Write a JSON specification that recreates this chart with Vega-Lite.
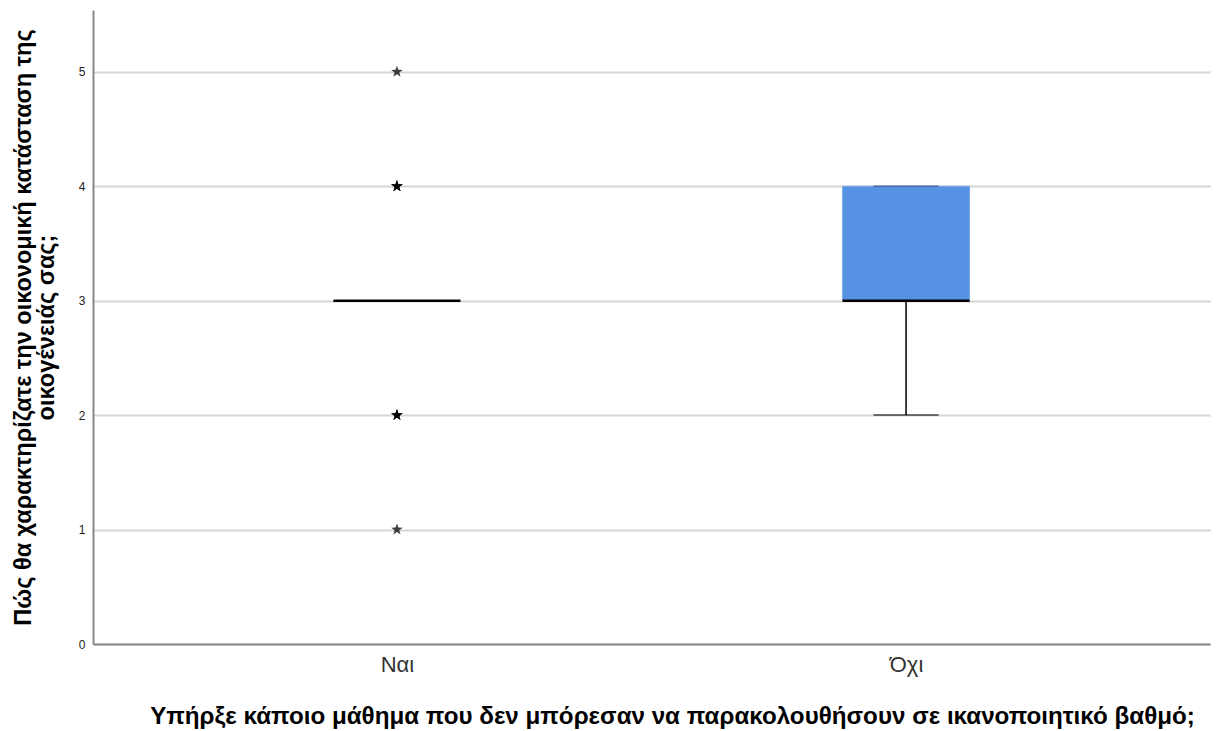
{
  "$schema": "https://vega.github.io/schema/vega-lite/v6.json",
  "width": 1117,
  "height": 634,
  "autosize": {"type": "none"},
  "padding": {"left": 93, "top": 10, "right": 14, "bottom": 87},
  "background": "white",
  "datasets": {
    "box": [
      {"group": "Ναι", "lower": 3, "q1": 3, "median": 3, "q3": 3, "upper": 3},
      {"group": "Όχι", "lower": 2, "q1": 3, "median": 3, "q3": 4, "upper": 4}
    ],
    "out": [
      {"group": "Ναι", "value": 5},
      {"group": "Ναι", "value": 4},
      {"group": "Ναι", "value": 4},
      {"group": "Ναι", "value": 4},
      {"group": "Ναι", "value": 2},
      {"group": "Ναι", "value": 2},
      {"group": "Ναι", "value": 2},
      {"group": "Ναι", "value": 1}
    ]
  },
  "config": {
    "view": {"stroke": null},
    "axis": {"labelFont": "Liberation Sans", "titleFont": "Liberation Sans"}
  },
  "encoding": {
    "x": {
      "field": "group",
      "type": "nominal",
      "sort": ["Ναι", "Όχι"],
      "scale": {"type": "point", "domain": ["Ναι", "Όχι"], "padding": 0.597},
      "axis": {
        "orient": "bottom",
        "title": "Υπήρξε κάποιο μάθημα που δεν μπόρεσαν να παρακολουθήσουν σε ικανοποιητικό βαθμό;",
        "titleFontSize": 24.2,
        "titleFontWeight": "bold",
        "titleColor": "#000",
        "titlePadding": 29,
        "titleX": 579,
        "labelAngle": 0,
        "labelFontSize": 22,
        "labelColor": "#333",
        "labelPadding": 10,
        "ticks": false,
        "domainColor": "#888",
        "domainWidth": 2,
        "grid": false
      }
    }
  },
  "layer": [
    {
      "data": {"name": "box"},
      "mark": {"type": "rule", "color": "#000", "strokeWidth": 1.5},
      "encoding": {
        "y": {
          "field": "lower",
          "type": "quantitative",
          "scale": {"domain": [0, 5.54], "nice": false, "zero": true},
          "axis": {
            "orient": "left",
            "title": ["Πώς θα χαρακτηρίζατε την οικονομική κατάσταση της", "οικογένειάς σας;"],
            "titleFontSize": 23.5,
            "titleFontWeight": "bold",
            "titleColor": "#000",
            "titlePadding": 20,
            "titleLineHeight": 23,
            "values": [0, 1, 2, 3, 4, 5],
            "format": "d",
            "labelFontSize": 12,
            "labelColor": "#222",
            "labelPadding": 8,
            "ticks": false,
            "domainColor": "#888",
            "domainWidth": 2,
            "grid": true,
            "gridColor": "#d6d6d6",
            "gridWidth": 2
          }
        },
        "y2": {"field": "q1"}
      }
    },
    {
      "data": {"name": "box"},
      "mark": {"type": "rule", "color": "#000", "strokeWidth": 1.5},
      "encoding": {
        "y": {"field": "q3", "type": "quantitative"},
        "y2": {"field": "upper"}
      }
    },
    {
      "data": {"name": "box"},
      "mark": {"type": "tick", "color": "#000", "size": 65, "thickness": 1.5},
      "encoding": {"y": {"field": "lower", "type": "quantitative"}}
    },
    {
      "data": {"name": "box"},
      "mark": {"type": "bar", "width": 127, "fill": "#5592e3", "stroke": "#7aa8e8", "strokeWidth": 1},
      "encoding": {
        "y": {"field": "q1", "type": "quantitative"},
        "y2": {"field": "q3"}
      }
    },
    {
      "data": {"name": "box"},
      "mark": {"type": "tick", "color": "#2a4f80", "size": 65, "thickness": 1.5},
      "encoding": {"y": {"field": "upper", "type": "quantitative"}}
    },
    {
      "data": {"name": "box"},
      "mark": {"type": "tick", "color": "#000", "size": 127, "thickness": 2.5, "opacity": 1},
      "encoding": {"y": {"field": "median", "type": "quantitative"}}
    },
    {
      "data": {"name": "out"},
      "mark": {"type": "point", "shape": "M0,-1L0.235,-0.324L0.951,-0.309L0.38,0.124L0.588,0.809L0,0.4L-0.588,0.809L-0.38,0.124L-0.951,-0.309L-0.235,-0.324Z", "filled": true, "color": "#000", "size": 150, "opacity": 0.75},
      "encoding": {"y": {"field": "value", "type": "quantitative"}}
    }
  ]
}
